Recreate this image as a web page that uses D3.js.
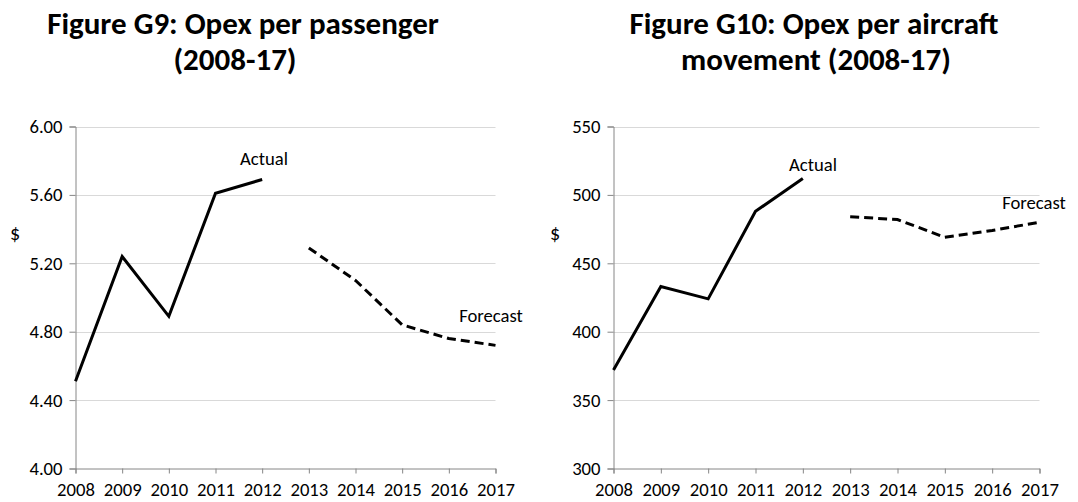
<!DOCTYPE html>
<html lang="en">
<head>
  <meta charset="utf-8">
  <title>Opex per passenger / per aircraft movement</title>
  <script src="https://cdn.jsdelivr.net/npm/d3@7"></script>
  <style>
    body { margin: 0; background: #fff; }
    svg text { font-family: Calibri, Carlito, Lato, sans-serif; fill: #000; }
    .title { font-weight: bold; font-size: 31px; }
    .tick-label { font-size: 18.67px; }
    .note { font-size: 18.67px; }
  </style>
</head>
<body>
  <svg id="chart" width="1078" height="502"></svg>

  <script type="text/javascript">
    // data
    var years = [2008, 2009, 2010, 2011, 2012, 2013, 2014, 2015, 2016, 2017];
    var actualYears = [2008, 2009, 2010, 2011, 2012];
    var forecastYears = [2013, 2014, 2015, 2016, 2017];

    var paxActual = [4.51, 5.24, 4.89, 5.61, 5.69];
    var paxForecast = [5.29, 5.10, 4.84, 4.76, 4.72];
    var paxTicks = [4.00, 4.40, 4.80, 5.20, 5.60, 6.00];

    var movActual = [372, 433, 424, 488, 512];
    var movForecast = [484, 482, 469, 474, 480];
    var movTicks = [300, 350, 400, 450, 500, 550];

    var svg = d3.select("#chart");

    function drawPanel(opt) {
      var g = svg.append("g");

      var x = d3.scaleLinear().domain([2008, 2017]).range([opt.left, opt.right]);
      var y = d3.scaleLinear().domain(opt.domain).range([468.5, 126.5]);

      // title, two lines
      opt.title.forEach(function (line, i) {
        g.append("text")
          .attr("class", "title")
          .attr("text-anchor", "middle")
          .attr("x", opt.titleX[i])
          .attr("y", 34 + i * 36)
          .text(line);
      });

      // gridlines
      g.selectAll("line.grid")
        .data(opt.ticks.slice(1))
        .enter().append("line")
        .attr("class", "grid")
        .attr("x1", opt.left)
        .attr("x2", opt.right)
        .attr("y1", function (d) { return Math.round(y(d)) + 0.5; })
        .attr("y2", function (d) { return Math.round(y(d)) + 0.5; })
        .attr("stroke", "#d9d9d9")
        .attr("stroke-width", 1);

      // y axis
      var yAxis = d3.axisLeft(y)
        .tickValues(opt.ticks)
        .tickFormat(opt.fmt)
        .tickSize(6)
        .tickPadding(7);
      var ya = g.append("g")
        .attr("transform", "translate(" + opt.left + ",0)")
        .call(yAxis);
      ya.attr("font-size", null).attr("font-family", null);
      ya.select(".domain").attr("stroke", "#868686");
      ya.selectAll(".tick line").attr("stroke", "#868686");
      ya.selectAll(".tick text").attr("class", "tick-label");

      // x axis
      var xAxis = d3.axisBottom(x)
        .tickValues(years)
        .tickFormat(d3.format("d"))
        .tickSize(5)
        .tickPadding(9);
      var xa = g.append("g")
        .attr("transform", "translate(0," + 468.5 + ")")
        .call(xAxis);
      xa.attr("font-size", null).attr("font-family", null);
      xa.select(".domain").attr("stroke", "#868686");
      xa.selectAll(".tick line").attr("stroke", "#868686");
      xa.selectAll(".tick text").attr("class", "tick-label");

      // y axis title
      g.append("text")
        .attr("class", "tick-label")
        .attr("x", opt.dollarX)
        .attr("y", 240)
        .attr("text-anchor", "middle")
        .style("font-size", "20px")
        .text("$");

      var line = d3.line()
        .x(function (d) { return x(d[0]); })
        .y(function (d) { return y(d[1]); });

      g.append("path")
        .datum(d3.zip(actualYears, opt.actual))
        .attr("d", line)
        .attr("fill", "none")
        .attr("stroke", "#000")
        .attr("stroke-width", 3);

      g.append("path")
        .datum(d3.zip(forecastYears, opt.forecast))
        .attr("d", line)
        .attr("fill", "none")
        .attr("stroke", "#000")
        .attr("stroke-width", 3)
        .attr("stroke-dasharray", "9,5");

      // series labels (baseline positions)
      g.append("text")
        .attr("class", "note")
        .attr("x", opt.actualLbl[0])
        .attr("y", opt.actualLbl[1])
        .attr("text-anchor", "middle")
        .text("Actual");

      g.append("text")
        .attr("class", "note")
        .attr("x", opt.forecastLbl[0])
        .attr("y", opt.forecastLbl[1])
        .attr("text-anchor", "middle")
        .text("Forecast");
    }

    drawPanel({
      left: 75.5, right: 495.5,
      domain: [4.0, 6.0],
      ticks: paxTicks,
      fmt: d3.format(".2f"),
      title: ["Figure G9: Opex per passenger", "(2008-17)"],
      titleX: [243, 235],
      dollarX: 15,
      actual: paxActual,
      forecast: paxForecast,
      actualLbl: [264, 165],
      forecastLbl: [491, 322]
    });

    drawPanel({
      left: 613.5, right: 1039.5,
      domain: [300, 550],
      ticks: movTicks,
      fmt: d3.format("d"),
      title: ["Figure G10: Opex per aircraft", "movement (2008-17)"],
      titleX: [814, 816],
      dollarX: 555,
      actual: movActual,
      forecast: movForecast,
      actualLbl: [813, 171],
      forecastLbl: [1034, 209]
    });
  </script>
</body>
</html>
